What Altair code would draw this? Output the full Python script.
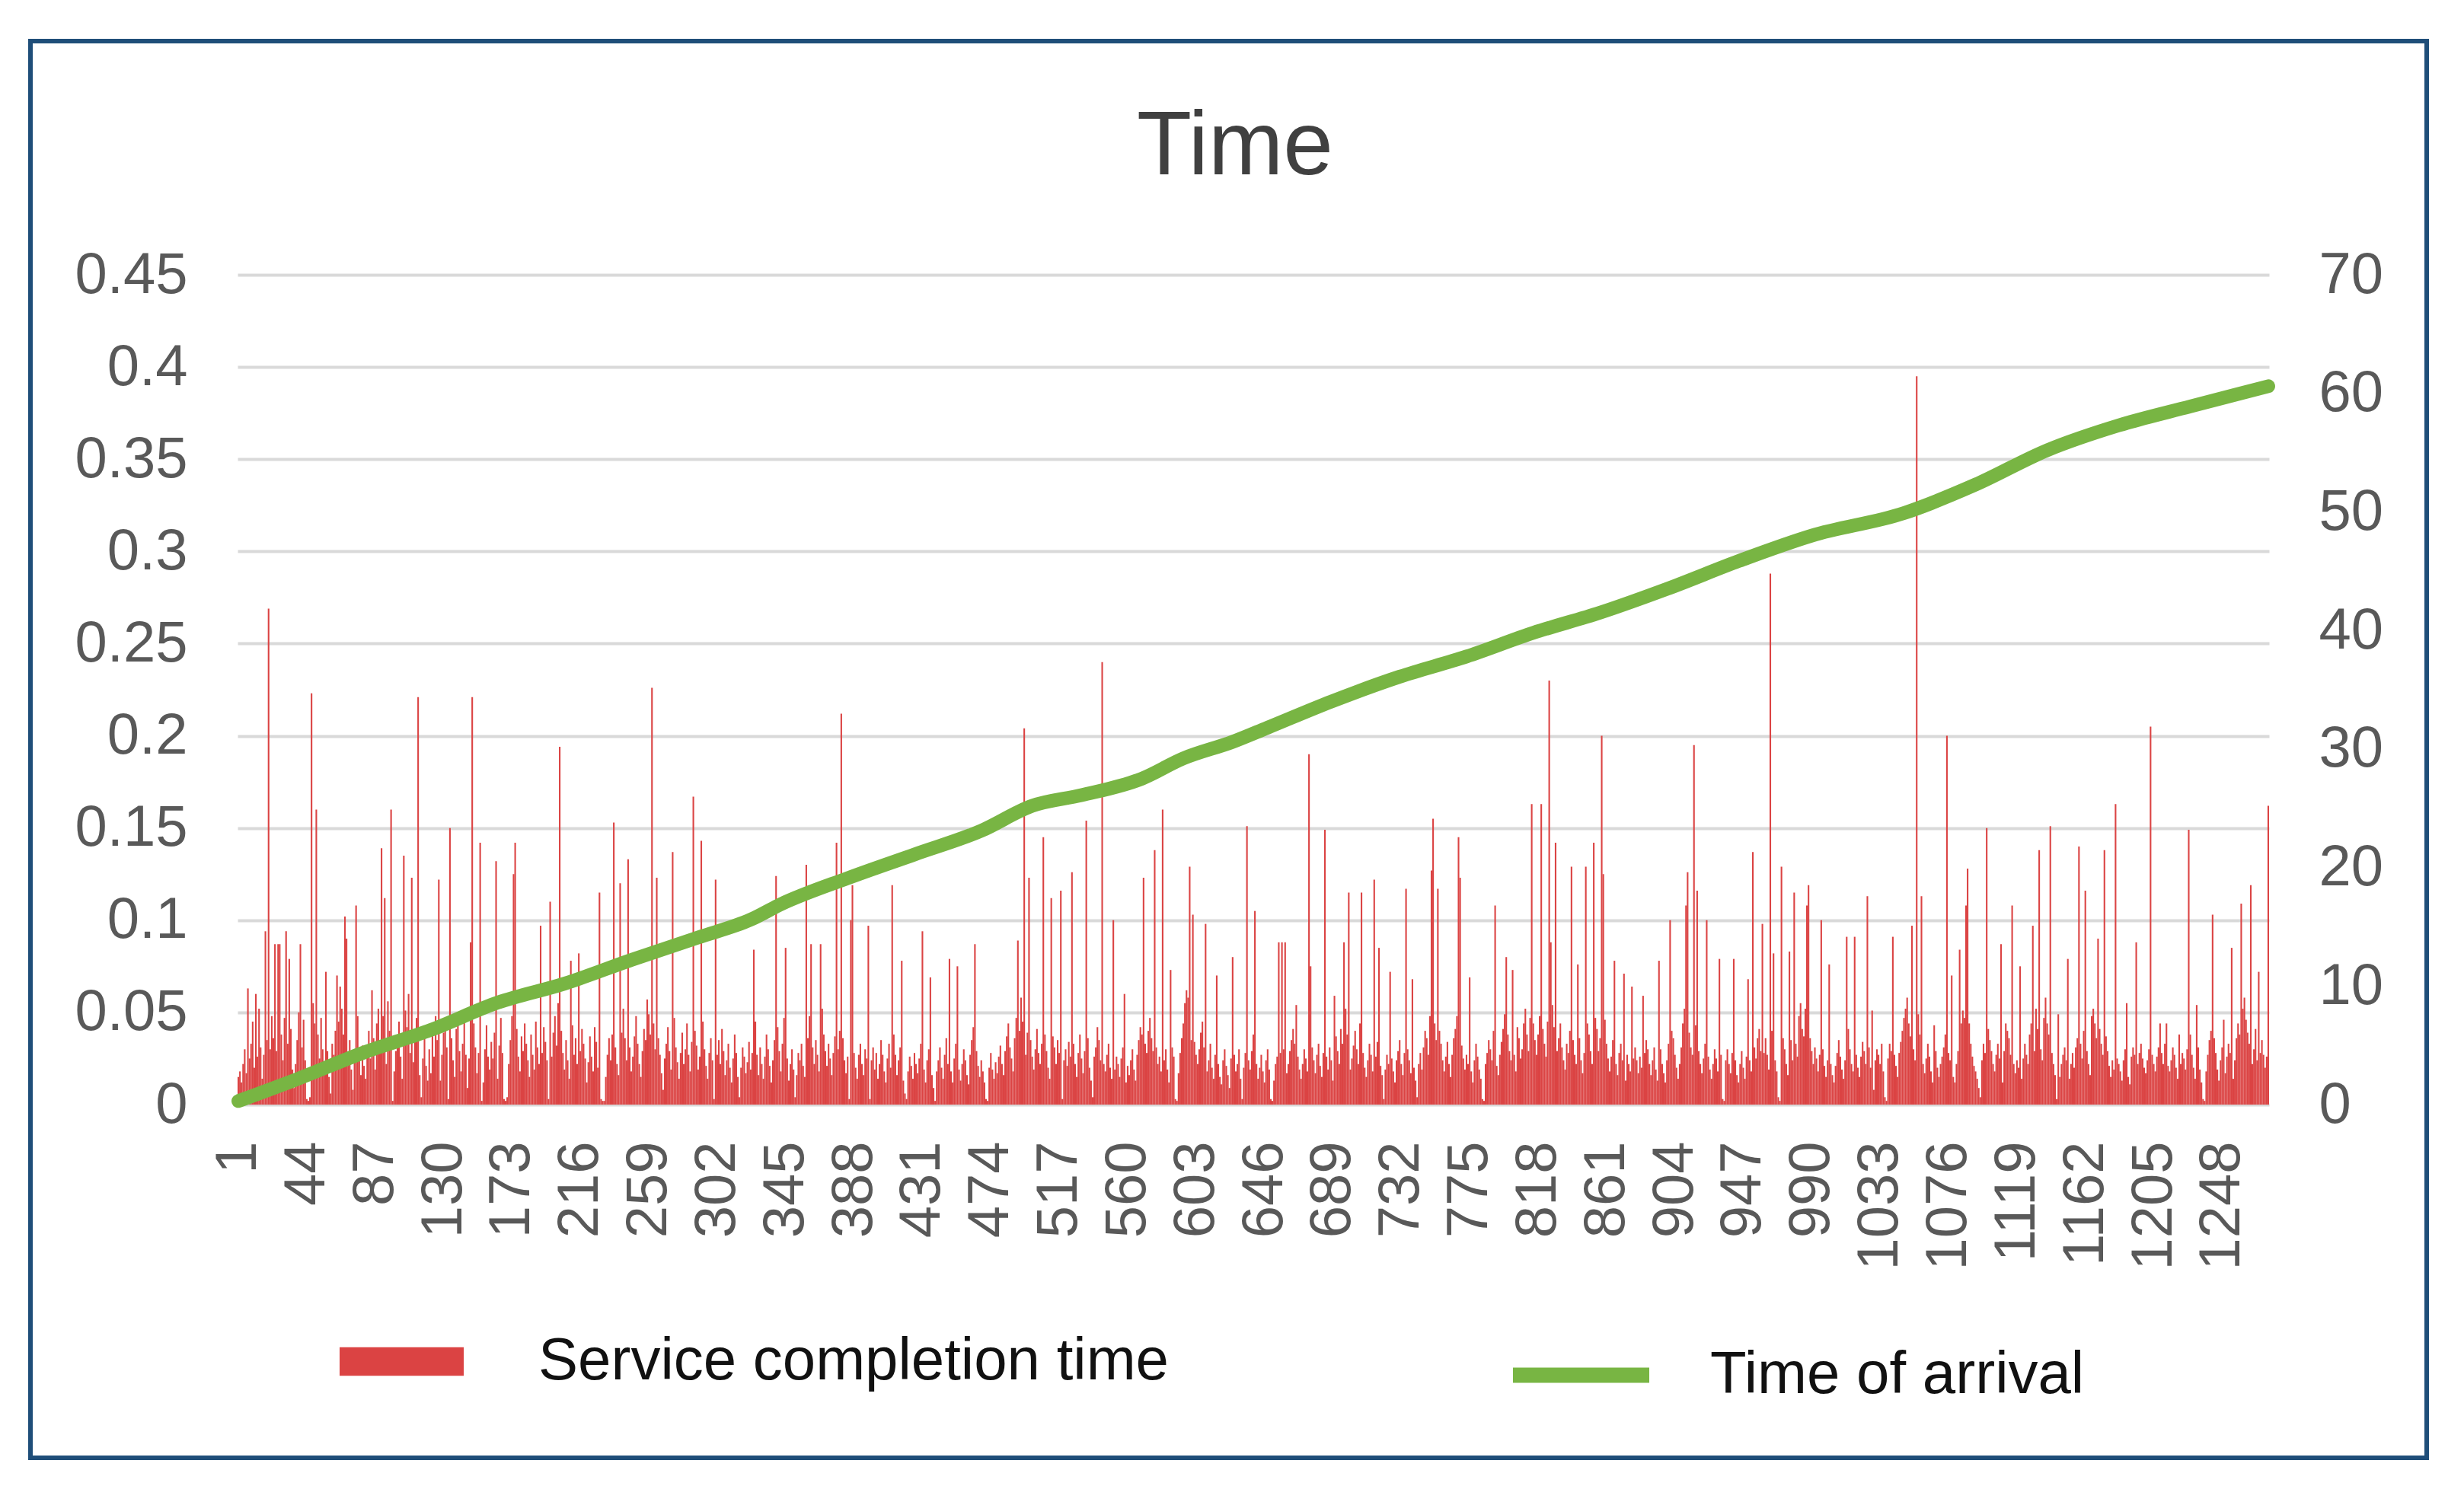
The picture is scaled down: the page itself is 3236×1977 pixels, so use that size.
import altair as alt
import pandas as pd

# service completion time per customer (thousandths)
service_base = [
    15, 18, 12, 22, 30, 17, 40, 25, 33, 45, 20, 38, 26, 52, 31, 14, 27, 44, 35, 21,
    30, 48, 36, 55, 29, 41, 62, 38, 24, 47, 58, 33, 27, 41, 19, 9, 22, 35, 50, 28,
    31, 46, 24, 3, 2, 4, 36, 55, 44, 60, 38, 25, 47, 30, 18, 42, 29, 15, 6, 33,
    27, 40, 56, 45, 64, 52, 38, 20, 11, 26, 35, 19, 8, 24, 37, 48, 29, 16, 32, 21,
    14, 28, 40, 25, 3, 36, 19, 44, 52, 33, 27, 48, 31, 22, 56, 40, 35, 2, 18, 29,
    37, 45, 26, 14, 33, 51, 42, 60, 28, 9, 23, 34, 47, 30, 16, 4, 25, 38, 21, 13,
    30, 17, 42, 26, 48, 35, 22, 13, 27, 39, 45, 31, 3, 20, 36, 24, 15, 41, 50, 29,
    18, 33, 46, 27, 9, 25, 38, 22, 44, 31, 17, 28, 35, 2, 12, 30, 43, 26, 19, 34,
    25, 39, 21, 14, 32, 47, 28, 3, 2, 4, 22, 35, 48, 56, 30, 41, 26, 18, 37, 29,
    44, 33, 24, 15, 38, 27, 19, 45, 31, 22, 13, 28, 42, 34, 24, 3, 17, 26, 39, 48,
    32, 55, 46, 40, 28, 19, 35, 24, 14, 30, 43, 27, 36, 22, 18, 29, 41, 33, 25, 12,
    23, 37, 26, 18, 42, 34, 20, 28, 3, 2, 2, 15, 27, 36, 24, 38, 45, 31, 22, 16,
    28, 39, 52, 36, 24, 44, 31, 18, 26, 37, 48, 33, 22, 15, 29, 41, 35, 57, 49, 38,
    26, 44, 30, 21, 36, 27, 17, 8, 25, 33, 42, 29, 19, 35, 47, 31, 23, 14, 28, 39,
    22, 30, 44, 27, 18, 34, 25, 40, 32, 19, 26, 37, 45, 30, 21, 14, 28, 36, 24, 3,
    18, 27, 35, 22, 41, 29, 16, 24, 33, 20, 12, 25, 38, 28, 15, 4, 20, 31, 26, 17,
    23, 34, 19, 28, 36, 45, 27, 16, 31, 22, 14, 26, 38, 30, 21, 12, 24, 35, 55, 42,
    29, 18, 33, 47, 38, 25, 13, 22, 30, 19, 4, 16, 28, 24, 33, 21, 15, 27, 36, 48,
    40, 31, 22, 35, 27, 18, 44, 52, 38, 29, 21, 33, 25, 16, 28, 37, 45, 30, 40, 48,
    36, 24, 17, 26, 3, 42, 35, 28, 20, 14, 27, 33, 22, 16, 30, 25, 18, 3, 24, 31,
    19, 28, 14, 22, 35, 27, 18, 12, 25, 33, 20, 47, 38, 27, 16, 24, 31, 22, 13, 6,
    3, 18, 26, 21, 14, 28, 22, 17, 25, 33, 27, 19, 12, 24, 30, 21, 16, 9, 2, 18,
    24, 31, 20, 14, 27, 36, 22, 29, 18, 12, 25, 33, 28, 19, 13, 22, 30, 24, 16, 11,
    27, 35, 42, 38, 29, 21, 15, 24, 18, 12, 3, 2, 20, 28, 19, 14, 23, 17, 26, 32,
    22, 16, 29, 37, 44, 31, 25, 18, 36, 47, 52, 40, 58, 45, 33, 27, 39, 48, 35, 26,
    19, 30, 41, 28, 22, 33, 46, 38, 29, 20, 14, 25, 37, 31, 22, 35, 28, 16, 3, 24,
    30, 21, 34, 26, 40, 33, 22, 15, 28, 38, 25, 17, 29, 44, 36, 20, 13, 4, 26, 31,
    42, 35, 24, 30, 22, 18, 27, 33, 20, 14, 8, 19, 26, 22, 15, 25, 31, 18, 12, 21,
    16, 24, 30, 19, 13, 27, 35, 42, 38, 45, 33, 28, 40, 47, 36, 29, 44, 31, 22, 26,
    18, 14, 24, 30, 19, 12, 23, 31, 26, 3, 2, 17, 28, 36, 44, 55, 62, 58, 41, 35,
    48, 34, 27, 22, 30, 39, 45, 31, 26, 18, 24, 33, 20, 14, 27, 36, 22, 15, 11, 24,
    30, 21, 16, 9, 25, 33, 27, 18, 22, 30, 14, 3, 20, 28, 36, 24, 19, 29, 38, 31,
    22, 14, 20, 27, 18, 12, 24, 30, 19, 3, 2, 13, 22, 26, 31, 28, 35, 30, 24, 17,
    22, 29, 35, 41, 33, 38, 26, 19, 14, 22, 30, 25, 18, 36, 44, 31, 24, 17, 27, 33,
    21, 15, 28, 35, 26, 19, 31, 24, 13, 28, 37, 29, 22, 41, 33, 46, 52, 38, 27, 19,
    25, 32, 40, 30, 22, 44, 36, 28, 20, 15, 24, 33, 27, 18, 12, 26, 34, 29, 21, 16,
    3, 19, 27, 22, 31, 25, 18, 12, 24, 29, 35, 22, 16, 28, 38, 30, 24, 17, 27, 20,
    13, 4, 22, 28, 19, 31, 40, 36, 27, 48, 62, 57, 44, 35, 28, 40, 33, 24, 18, 26,
    34, 22, 15, 27, 36, 41, 48, 53, 44, 32, 25, 19, 27, 22, 31, 18, 12, 24, 33, 26,
    19, 14, 3, 2, 22, 28, 35, 30, 24, 40, 29, 21, 16, 27, 34, 41, 49, 55, 38, 29,
    24, 33, 27, 18, 42, 36, 25, 30, 44, 52, 38, 29, 47, 60, 44, 35, 27, 38, 48, 56,
    41, 33, 26, 45, 62, 71, 54, 42, 35, 29, 36, 44, 31, 24, 19, 33, 28, 40, 47, 35,
    27, 22, 30, 36, 24, 17, 28, 33, 44, 38, 29, 22, 35, 47, 41, 29, 36, 52, 60, 46,
    33, 25, 18, 26, 35, 30, 22, 16, 28, 33, 24, 19, 13, 27, 22, 18, 3, 25, 31, 24,
    17, 26, 20, 14, 28, 35, 30, 22, 16, 24, 31, 19, 13, 25, 30, 22, 17, 12, 24, 33,
    28, 40, 36, 27, 20, 14, 22, 31, 44, 52, 60, 48, 39, 31, 27, 35, 43, 38, 29, 22,
    17, 25, 33, 38, 26, 19, 14, 22, 30, 25, 18, 33, 27, 3, 2, 24, 30, 22, 17, 28,
    35, 24, 16, 12, 22, 29, 20, 14, 26, 33, 24, 18, 44, 31, 25, 36, 41, 29, 22, 28,
    36, 27, 19, 31, 40, 33, 24, 18, 4, 2, 28, 36, 30, 22, 16, 27, 35, 24, 42, 33,
    26, 48, 55, 41, 37, 52, 60, 47, 36, 29, 22, 31, 25, 18, 27, 38, 30, 21, 15, 24,
    30, 22, 16, 12, 21, 28, 35, 26, 19, 14, 24, 36, 41, 30, 22, 18, 38, 27, 20, 15,
    26, 34, 29, 22, 36, 31, 20, 14, 8, 24, 30, 27, 22, 33, 18, 4, 2, 25, 33, 29,
    36, 27, 21, 15, 28, 34, 40, 47, 52, 58, 44, 37, 45, 30, 24, 55, 49, 38, 31, 22,
    17, 25, 33, 26, 18, 12, 24, 29, 20, 15, 22, 26, 31, 38, 42, 28, 24, 19, 15, 12,
    22, 29, 36, 44, 51, 47, 55, 60, 44, 33, 26, 21, 18, 14, 9, 4, 24, 33, 28, 36,
    41, 35, 29, 22, 18, 27, 33, 25, 19, 12, 29, 44, 40, 36, 27, 30, 22, 17, 24, 20,
    18, 14, 25, 33, 27, 22, 38, 44, 36, 29, 52, 41, 35, 30, 24, 47, 58, 44, 38, 33,
    28, 22, 16, 3, 2, 15, 22, 27, 31, 24, 19, 14, 22, 28, 20, 31, 36, 27, 33, 25,
    40, 35, 29, 22, 16, 48, 52, 44, 36, 30, 41, 33, 27, 22, 37, 29, 21, 15, 24, 19,
    14, 25, 22, 18, 13, 24, 30, 20, 15, 11, 26, 31, 27, 19, 22, 28, 33, 25, 20, 17,
    24, 30, 36, 27, 22, 18, 26, 31, 35, 28, 22, 33, 29, 21, 18, 24, 31, 27, 20, 14,
    9, 22, 28, 25, 19, 30, 46, 38, 27, 20, 14, 23, 31, 19, 12, 3, 2, 18, 27, 35,
    40, 44, 36, 28, 19, 13, 24, 31, 22, 17, 26, 33, 28, 20, 14, 24, 36, 44, 38, 31,
    52, 58, 46, 39, 33, 26, 22, 30, 41, 24, 19, 28, 35, 27, 20, 26, 38,
]

# taller spikes: customer number and height (thousandths)
peak_customer = [
    7, 12, 18, 20, 24, 26, 27, 31, 33, 40, 47, 50, 56, 63, 68, 69, 75, 85, 91, 93,
    97, 105, 110, 114, 127, 134, 147, 148, 153, 163, 174, 175, 191, 197, 203, 210, 215, 228, 237, 241,
    246, 261, 264, 274, 287, 292, 301, 325, 339, 345, 358, 361, 367, 377, 380, 386, 387, 397, 412, 418,
    431, 436, 448, 453, 464, 491, 495, 498, 507, 512, 518, 525, 534, 544, 551, 558, 570, 577, 582, 587,
    599, 601, 609, 616, 626, 635, 640, 655, 657, 659, 666, 674, 675, 684, 690, 696, 699, 707, 715, 718,
    725, 735, 739, 751, 752, 755, 768, 769, 775, 791, 798, 802, 814, 820, 825, 826, 829, 839, 843, 848,
    853, 858, 859, 866, 872, 877, 884, 894, 901, 911, 912, 916, 918, 924, 932, 941, 950, 953, 959, 964,
    966, 971, 976, 979, 987, 988, 996, 1001, 1012, 1017, 1025, 1028, 1041, 1053, 1056, 1059, 1067, 1075, 1078, 1083,
    1087, 1088, 1100, 1109, 1116, 1121, 1129, 1133, 1140, 1145, 1151, 1158, 1162, 1170, 1174, 1181, 1188, 1194, 1203, 1209,
    1213, 1221, 1227, 1232, 1242, 1249, 1254, 1260, 1266, 1271, 1277,
]
peak_height = [
    63, 60, 94, 269, 87, 87, 87, 94, 79, 87, 223, 160, 72, 70, 102, 90, 108, 62, 139, 112,
    160, 135, 123, 221, 122, 150, 88, 221, 142, 132, 125, 142, 97, 110, 194, 78, 82, 115, 153, 120,
    133, 226, 123, 137, 167, 143, 122, 84, 124, 85, 130, 87, 87, 142, 212, 100, 119, 97, 119, 78,
    94, 69, 79, 75, 87, 89, 204, 123, 145, 112, 116, 126, 154, 240, 100, 60, 123, 138, 160, 73,
    129, 103, 98, 70, 80, 151, 105, 88, 88, 88, 54, 190, 75, 149, 59, 88, 115, 115, 122, 85,
    72, 117, 68, 127, 155, 117, 145, 123, 69, 108, 80, 73, 163, 163, 230, 88, 142, 129, 76, 129,
    142, 200, 125, 78, 71, 64, 59, 78, 100, 108, 126, 195, 116, 100, 79, 79, 68, 137, 98, 288,
    82, 129, 83, 115, 108, 119, 100, 76, 91, 91, 113, 51, 91, 97, 395, 113, 43, 200, 70, 84,
    108, 128, 150, 87, 108, 75, 97, 138, 151, 49, 79, 140, 116, 90, 138, 163, 55, 88, 205, 44,
    44, 38, 149, 54, 103, 46, 85, 109, 119, 72, 162,
]

# time of arrival
arrival_customer = [1, 37, 80, 122, 164, 206, 248, 290, 323, 342, 384, 426, 468, 500, 531, 569, 595,
                    626, 648, 688, 731, 773, 815, 857, 899, 947, 990, 1048, 1093, 1138, 1183, 1228, 1277]
arrival_time = [0.3, 2.1, 4.4, 6.3, 8.6, 10.2, 12.2, 14.1, 15.6, 16.9, 19.1, 21.1, 23.1, 25.2, 26.1, 27.5, 29.2,
                30.6, 31.8, 34.0, 36.1, 37.8, 39.8, 41.5, 43.5, 46.0, 48.0, 49.9, 52.3, 55.2, 57.3, 58.9, 60.6]

x_ticks = list(range(1, 1249, 43))
left_ticks = [0, 0.05, 0.1, 0.15, 0.2, 0.25, 0.3, 0.35, 0.4, 0.45]
right_ticks = [0, 10, 20, 30, 40, 50, 60, 70]

assert len(service_base) == 1277, len(service_base)

service = [v / 1000 for v in service_base]
for c, h in zip(peak_customer, peak_height):
    service[c - 1] = h / 1000

bars_df = pd.DataFrame({
    "customer": list(range(1, len(service) + 1)),
    "service": service,
    "series": "Service completion time",
})
line_df = pd.DataFrame({
    "customer": arrival_customer,
    "arrival": arrival_time,
    "series": "Time of arrival",
})

FONT = "Liberation Sans"
GREY = "#595959"

bars = alt.Chart(bars_df).mark_bar().encode(
    x=alt.X("customer:O", title=None,
            scale=alt.Scale(paddingInner=0, paddingOuter=0),
            axis=alt.Axis(values=x_ticks, labelAngle=270, labelPadding=48, ticks=False, domain=False,
                          labelOverlap=False, grid=False, labelFontSize=76, labelColor=GREY)),
    y=alt.Y("service:Q", title=None, scale=alt.Scale(domain=[0, 0.45]),
            axis=alt.Axis(values=left_ticks, format=".2~f", grid=True, gridColor="#d9d9d9", gridWidth=4,
                          ticks=False, domain=False, labelPadding=66, labelFontSize=76, labelColor=GREY)),
    color=alt.Color("series:N", scale=alt.Scale(range=["#db4343"]),
                    legend=alt.Legend(title=None, orient="none", legendX=134, legendY=1346, padding=0,
                                      symbolType="M-1,-0.23H1V0.23H-1Z", symbolSize=26569,
                                      symbolStrokeWidth=0, labelOffset=98, labelFontSize=78,
                                      labelColor="#111111", labelFont=FONT, labelLimit=1500)),
)

line = alt.Chart(line_df).mark_line(strokeWidth=18, strokeCap="round", strokeJoin="round",
                                    interpolate="monotone").encode(
    x=alt.X("customer:O"),
    y=alt.Y("arrival:Q", title=None, scale=alt.Scale(domain=[0, 70]),
            axis=alt.Axis(orient="right", values=right_ticks, grid=False, ticks=False, domain=False,
                          labelPadding=65, labelFontSize=76, labelColor=GREY)),
    color=alt.Color("series:N", scale=alt.Scale(range=["#78b543"]),
                    legend=alt.Legend(title=None, orient="none", legendX=1665, legendY=1346, padding=0,
                                      symbolType="stroke", symbolSize=32041, symbolStrokeWidth=20,
                                      labelOffset=70, labelFontSize=78, labelColor="#111111",
                                      labelFont=FONT, labelLimit=1500)),
)

# dark outline round the whole figure
frame = alt.Chart(pd.DataFrame({"k": [0]})).mark_rect(
    fillOpacity=0, stroke="#1f4e79", strokeWidth=6
).encode(x=alt.value(-272), x2=alt.value(2875), y=alt.value(-307), y2=alt.value(1554))

chart = alt.layer(bars, line, frame).resolve_scale(
    y="independent", color="independent"
).properties(
    width=2668,
    height=1090,
    padding={"left": 29, "top": 43, "right": 10, "bottom": 10},
    title=alt.Title("Time", fontSize=118, font=FONT, fontWeight="normal", color="#404040",
                    anchor="middle", offset=-203, dx=-24),
).configure_axis(
    labelFont=FONT
).configure_view(
    strokeWidth=0
)

chart.save("out.html", embed_options={"renderer": "svg", "actions": False})
